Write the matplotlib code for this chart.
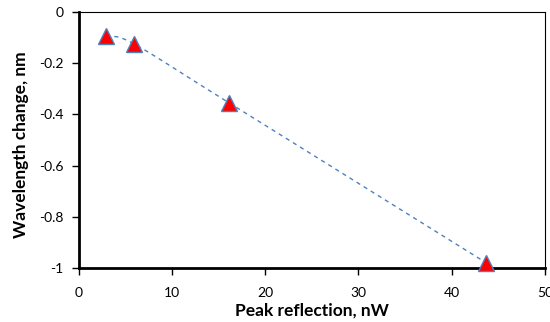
import numpy as np
import matplotlib.pyplot as plt

# data
power = [2.9, 5.9, 16.1, 43.7]          # peak reflection, nW
shift = [-0.093, -0.125, -0.355, -0.98]  # wavelength change, nm

def smooth(x, y, n=40):
    # Catmull-Rom spline through the points, like Excel's smoothed line
    x, y = np.asarray(x, float), np.asarray(y, float)
    px = np.concatenate([[2*x[0]-x[1]], x, [2*x[-1]-x[-2]]])
    py = np.concatenate([[2*y[0]-y[1]], y, [2*y[-1]-y[-2]]])
    xs, ys = [], []
    t = np.linspace(0, 1, n)
    for i in range(1, len(px)-2):
        for p, out in ((px, xs), (py, ys)):
            p0, p1, p2, p3 = p[i-1], p[i], p[i+1], p[i+2]
            out.extend(0.5*((2*p1) + (-p0+p2)*t + (2*p0-5*p1+4*p2-p3)*t**2
                            + (-p0+3*p1-3*p2+p3)*t**3))
    return xs, ys

plt.rcParams['font.family'] = ['Lato', 'DejaVu Sans']
fig = plt.figure(figsize=(5.5, 3.22), dpi=100)
ax = fig.add_axes([0.1436, 0.168, 0.847, 0.795])

sx, sy = smooth(power, shift)
ax.plot(sx, sy, color='#4F81BD', linestyle=(0, (3, 3)), linewidth=1.0, clip_on=False)
ax.plot(power, shift, linestyle='none', marker='^', markersize=11,
        markerfacecolor='#FF0000', markeredgecolor='#4F81BD', markeredgewidth=1.0,
        clip_on=False, zorder=3)

ax.set_xlim(0, 50)
ax.set_ylim(-1, 0)
ax.set_xticks([0, 10, 20, 30, 40, 50])
ax.set_yticks([0, -0.2, -0.4, -0.6, -0.8, -1])
ax.set_yticklabels(['0', '-0.2', '-0.4', '-0.6', '-0.8', '-1'])
ax.tick_params(direction='out', length=5, width=1, labelsize=10, colors='black')
ax.tick_params(axis='x', pad=9)
ax.tick_params(axis='y', pad=6)
ax.spines['left'].set_linewidth(2)
ax.spines['bottom'].set_linewidth(2)
ax.spines['top'].set_linewidth(0.8)
ax.spines['right'].set_linewidth(0.8)

ax.set_xlabel("Peak reflection, nW", fontsize=12.5, fontweight='bold')
ax.set_ylabel("Wavelength change, nm", fontsize=12.5, fontweight='bold')
ax.xaxis.label.set_va('center')
ax.yaxis.label.set_va('center')
ax.xaxis.set_label_coords(0.5, -0.166)
ax.yaxis.set_label_coords(-0.124, 0.48)

plt.savefig("out.png", dpi=100)
